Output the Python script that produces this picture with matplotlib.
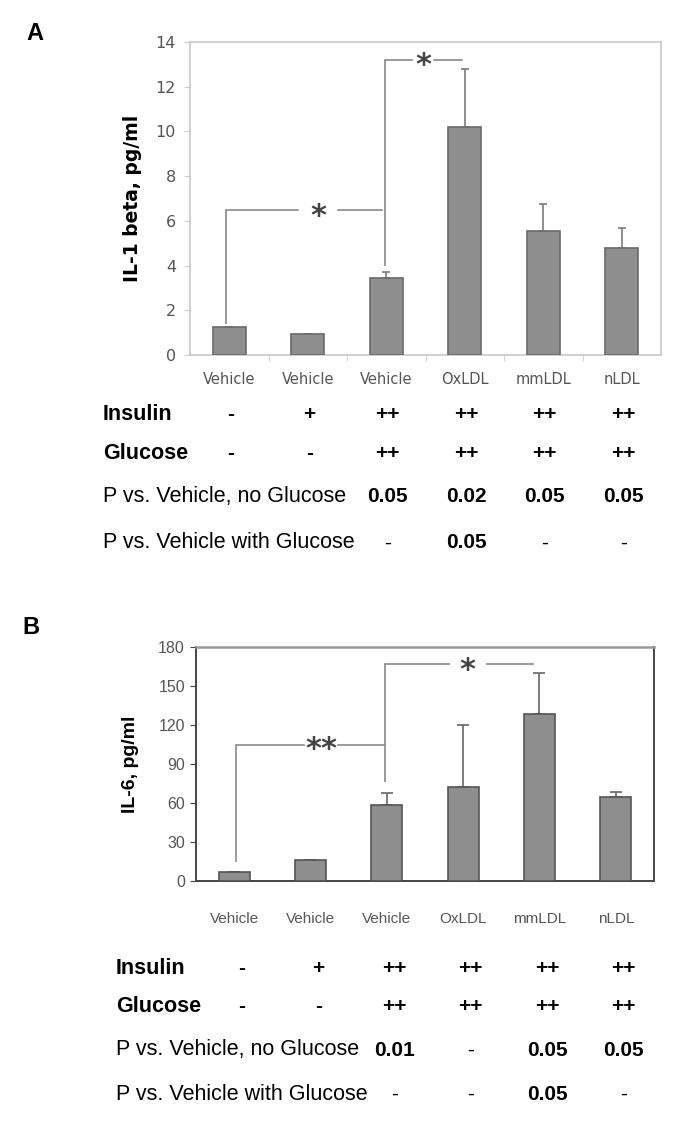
import matplotlib.pyplot as plt
import matplotlib.transforms as mtransforms
import numpy as np

# categories and measured values
cats = ["Vehicle", "Vehicle", "Vehicle", "OxLDL", "mmLDL", "nLDL"]
il1b = [1.25, 0.95, 3.45, 10.2, 5.55, 4.8]
il1b_err = [0, 0, 0.27, 2.6, 1.2, 0.9]
il6 = [7.2, 16.5, 58.5, 72, 128.5, 64.8]
il6_err = [0, 0, 9, 48, 31.5, 3.5]

# treatment table
insulin = ["-", "+", "++", "++", "++", "++"]
glucose = ["-", "-", "++", "++", "++", "++"]
p_noglc_a = ["", "", "0.05", "0.02", "0.05", "0.05"]
p_glc_a = ["", "", "-", "0.05", "-", "-"]
p_noglc_b = ["", "", "0.01", "-", "0.05", "0.05"]
p_glc_b = ["", "", "-", "-", "0.05", "-"]

# significance brackets: (x_left, y_bottom_left, x_right, y_top, label, label_x, gap, label_dy)
brackets_a = [(-0.04, 1.4, 1.95, 6.5, "*", 1.13, 0.25, -0.3),
              (1.98, 4.0, 2.96, 13.2, "*", 2.47, 0.14, -0.25)]
brackets_b = [(0.02, 15, 1.98, 105, "**", 1.14, 0.22, -4),
              (1.98, 76, 3.92, 167, "*", 3.06, 0.25, -5)]

NARROW = ["Liberation Sans Narrow", "Liberation Sans"]
ARIAL = ["Liberation Sans", "DejaVu Sans"]

fig = plt.figure(figsize=(6.85, 11.34), dpi=100)
W, H = 685.0, 1134.0


def px_axes(left, top, right, bottom):
    return fig.add_axes([left / W, 1 - bottom / H, (right - left) / W, (bottom - top) / H])


def draw_brackets(ax, brackets, col="#8a8a8a"):
    for xl, yb, xr, yt, lab, lx, gap, dy in brackets:
        ax.plot([xl, xl], [yb, yt], color=col, lw=1.2, solid_capstyle="butt")
        ax.plot([xl, lx - gap], [yt, yt], color=col, lw=1.2)
        ax.plot([lx + gap, xr], [yt, yt], color=col, lw=1.2)
        ax.text(lx, yt + dy, lab, ha="center", va="center", fontsize=22,
                color="#444444", family="DejaVu Sans", fontweight="bold")


def draw_table(ax, rows, label_x, ys, shift=0.0):
    trans = mtransforms.blended_transform_factory(ax.transData, fig.transFigure)
    for (name, vals, bold_name), y in zip(rows, ys):
        fig.text(label_x / W, 1 - y / H, name, ha="left", va="center",
                 fontsize=15.5, family=ARIAL,
                 fontweight="bold" if bold_name else "normal")
        for i, v in enumerate(vals):
            if not v:
                continue
            bold = v != "-" or bold_name
            ax.text(i + shift, 1 - y / H, v, transform=trans, ha="center",
                    va="center", fontsize=15, family=NARROW,
                    fontweight="bold" if bold else "normal", clip_on=False)


x = np.arange(len(cats))

# ---------------- panel A ----------------
ax1 = px_axes(190, 42, 661, 355)
ax1.bar(x, il1b, width=0.42, color="#8e8e8e", edgecolor="#6a6a6a", lw=1.2, zorder=3)
ax1.errorbar(x, il1b, yerr=[np.zeros(len(x)), il1b_err], fmt="none",
             ecolor="#7a7a7a", elinewidth=1.2, capsize=3, capthick=1.2, zorder=2)
ax1.set_xlim(-0.5, 5.5)
ax1.set_ylim(0, 14)
ax1.set_yticks(range(0, 15, 2))
ax1.set_xticks(x)
ax1.set_xticklabels(cats, fontsize=10.5, color="#555555", family="DejaVu Sans")
ax1.set_xticks(np.arange(0.5, 5.5, 1), minor=True)
ax1.tick_params(axis="x", which="major", length=0, pad=12)
ax1.tick_params(axis="x", which="minor", length=4, color="#cccccc")
ax1.tick_params(axis="y", length=4, color="#cccccc", labelsize=11.5,
                labelcolor="#555555", pad=6)
for s in ax1.spines.values():
    s.set_color("#c8c8c8")
    s.set_linewidth(1.2)
ax1.set_ylabel("IL-1 beta, pg/ml", fontsize=13.5, fontweight="bold",
               family="DejaVu Sans", labelpad=10)
draw_brackets(ax1, brackets_a)
fig.text(35 / W, 1 - 33 / H, "A", fontsize=17, fontweight="bold",
         family=ARIAL, ha="center", va="center")

draw_table(ax1, [("Insulin", insulin, True), ("Glucose", glucose, True),
                 ("P vs. Vehicle, no Glucose", p_noglc_a, False),
                 ("P vs. Vehicle with Glucose", p_glc_a, False)],
           103, [415, 453, 497, 543], shift=0.02)

# ---------------- panel B ----------------
ax2 = px_axes(196, 647, 654, 881)
ax2.bar(x, il6, width=0.41, color="#8e8e8e", edgecolor="#555555", lw=1.2, zorder=3)
ax2.errorbar(x, il6, yerr=[np.zeros(len(x)), il6_err], fmt="none",
             ecolor="#666666", elinewidth=1.2, capsize=4, capthick=1.2, zorder=2)
ax2.set_xlim(-0.5, 5.5)
ax2.set_ylim(0, 180)
ax2.set_yticks(range(0, 181, 30))
ax2.set_xticks(x)
ax2.set_xticklabels(cats, fontsize=11, color="#555555", family=NARROW)
ax2.tick_params(axis="x", length=0, pad=22)
ax2.tick_params(axis="y", length=4, color="#444444", labelsize=11.5,
                labelcolor="#555555", pad=4)
for lbl in ax2.get_yticklabels():
    lbl.set_family(NARROW)
for side in ["left", "bottom", "right"]:
    ax2.spines[side].set_color("#444444")
    ax2.spines[side].set_linewidth(1.4)
ax2.spines["top"].set_color("#9a9a9a")
ax2.spines["top"].set_linewidth(1.8)
ax2.set_ylabel("IL-6, pg/ml", fontsize=14, fontweight="bold", family=ARIAL,
               labelpad=14)
draw_brackets(ax2, brackets_b)
fig.text(31 / W, 1 - 627 / H, "B", fontsize=17, fontweight="bold",
         family=ARIAL, ha="center", va="center")

draw_table(ax2, [("Insulin", insulin, True), ("Glucose", glucose, True),
                 ("P vs. Vehicle, no Glucose", p_noglc_b, False),
                 ("P vs. Vehicle with Glucose", p_glc_b, False)],
           116, [969, 1007, 1050, 1094], shift=0.1)

fig.savefig("out.png", dpi=100)
